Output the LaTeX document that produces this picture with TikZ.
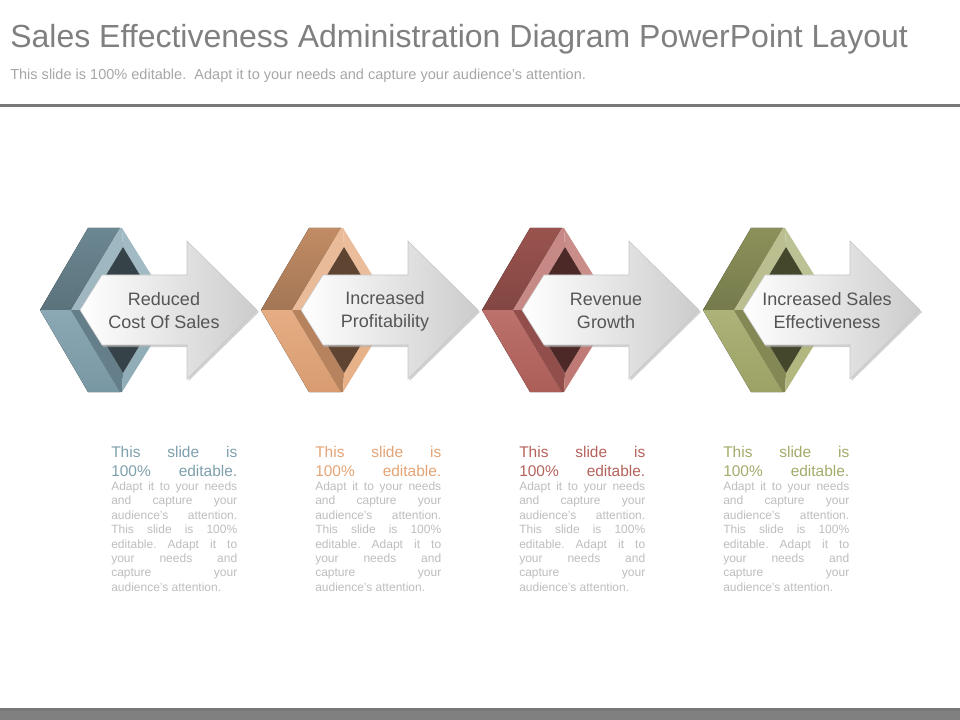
\documentclass[tikz,border=0pt]{standalone}
\usepackage{fontspec}
\setmainfont{Liberation Sans}
\usetikzlibrary{positioning}
\definecolor{shpA}{HTML}{7E9FAC}
\definecolor{shpB}{HTML}{E3A476}
\definecolor{shpC}{HTML}{B5625C}
\definecolor{shpD}{HTML}{A4AA6A}
\definecolor{lbltxt}{HTML}{555555}
\definecolor{bodygray}{HTML}{BDBDBD}
\definecolor{rulegray}{HTML}{787878}
\tikzset{
  lbltext/.style={inner sep=0, align=center, text=lbltxt, font=\fontsize{13.5}{17.25}\selectfont},
  desc/.style={inner sep=0, anchor=north west, text width=94.5pt, align=justify, text=bodygray, font=\fontsize{9}{10.8}\selectfont}
}
\begin{document}
\begin{tikzpicture}[x=0.75pt, y=-0.75pt]
    \useasboundingbox (0,0) rectangle (960,720);
    \node [anchor=base west, inner sep=0, text=gray, font=\fontsize{24}{28}\selectfont] (title) at (10,48) {Sales Effectiveness Administration Diagram PowerPoint Layout};
    \node [anchor=base west, inner sep=0, text=gray!70, font=\fontsize{10.9}{13}\selectfont] (subtitle) at (10,80) {This slide is 100\% editable.\ \ Adapt it to your needs and capture your audience's attention.};
    \fill [rulegray] (0,104) rectangle (960,107.5);
    \fill [gray] (0,708) rectangle (960,720);
    \fill [rulegray] (0,708) rectangle (960,710.5);

    \foreach \i/\x/\c/\t/\d in {1/40/shpA/{Reduced\\Cost Of Sales}/111, 2/261/shpB/{Increased\\Profitability}/315, 3/482/shpC/{Revenue\\Growth}/519, 4/703/shpD/{Increased Sales\\Effectiveness}/723}
    {
       \begin{scope}[shift={(\x,310)}]
          \fill [top color=\c!85!black, bottom color=\c!72!black] (0,0)--(48,-82)--(80,-82)--(31,0)--cycle;
          \fill [\c!75!white] (31,0)--(80,-82)--(82,-82)--(83,-63)--(45,0)--cycle;
          \fill [\c!72!white] (82,-82)--(133,0)--(121,0)--(83,-63)--cycle;
          \fill [top color=\c!90!white, bottom color=\c!95!black] (0,0)--(48,82)--(80,82)--(31,0)--cycle;
          \fill [\c!80!black] (31,0)--(80,82)--(82,82)--(83,63)--(45,0)--cycle;
          \fill [\c!85!white] (82,82)--(133,0)--(121,0)--(83,63)--cycle;
          \fill [\c!42!black] (83,-63)--(121,0)--(83,63)--(45,0)--cycle;
          \fill [gray!60, opacity=.6] (41.5,2)--(63.5,-33)--(148.5,-33)--(148.5,-67)--(219,2)--(148.5,71)--(148.5,37)--(63.5,37)--cycle;
          \draw [gray!45, left color=white, right color=gray!40] (40,0)--(62,-35)--(147,-35)--(147,-69)--(217,0)--(147,69)--(147,35)--(62,35)--cycle;
       \end{scope}
       \node [lbltext] (lbl\i) at (\x+124,311) {\t};
       \node [desc] (desc\i) at (\d,446) {{\fontsize{11.6}{13.9}\selectfont\color{\c}\parfillskip=0pt This slide is\linebreak 100\% editable.\par}\frenchspacing Adapt it to your needs\linebreak and capture your\linebreak audience's attention.\linebreak This slide is 100\%\linebreak editable. Adapt it to\linebreak your needs and\linebreak capture your\linebreak audience's attention.};
    }
\end{tikzpicture}
\end{document}
